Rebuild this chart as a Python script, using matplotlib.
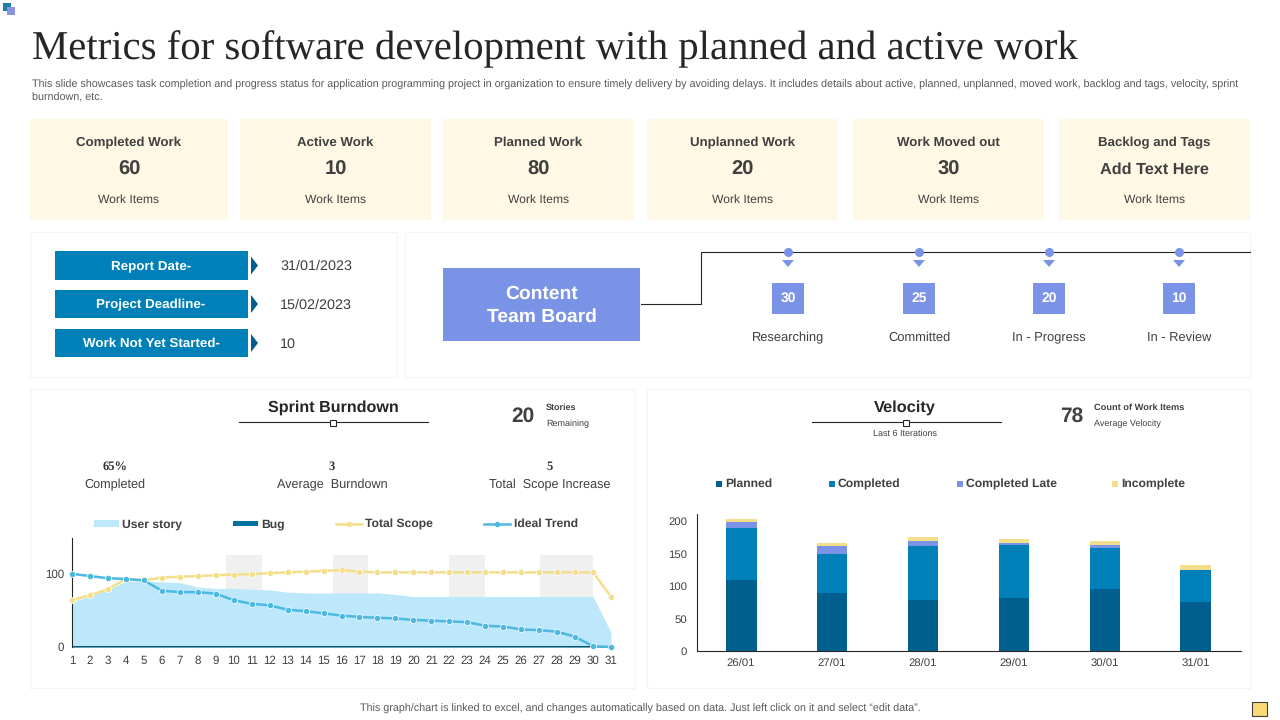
import matplotlib
matplotlib.use("Agg")
import matplotlib.pyplot as plt
from matplotlib.patches import Rectangle, Polygon

plt.rcParams['font.family'] = ['Liberation Sans', 'DejaVu Sans']
plt.rcParams['text.hinting'] = 'no_hinting'

# KPI cards
card_titles = ['Completed Work', 'Active Work', 'Planned Work', 'Unplanned Work', 'Work Moved out', 'Backlog and Tags']
card_values = ['60', '10', '80', '20', '30', 'Add Text Here']

# report info
info_labels = ['Report Date-', 'Project Deadline-', 'Work Not Yet Started-']
info_values = ['31/01/2023', '15/02/2023', '10']

# board
stage_names = ['Researching', 'Committed', 'In - Progress', 'In - Review']
stage_counts = [30, 25, 20, 10]

# sprint burndown
days = list(range(1, 32))
user_story = [62, 70, 78, 90, 90, 89, 88, 82, 80, 80, 79, 78, 75, 74, 74, 74, 74, 74, 72, 69,
              69, 69, 69, 69, 69, 69, 69, 69, 69, 69, 20]
bug = [2] * 30 + [0]
total_scope = [64, 71, 79, 93, 91, 95, 96, 97, 98, 99, 99.5, 101, 102, 103, 104, 105, 103, 102, 102, 102,
               102, 102, 102, 102, 102, 102, 102, 102, 102, 102, 69]
ideal_trend = [100, 97, 94, 93, 91, 77, 75, 75, 73, 64, 59, 57, 51, 49, 46, 43, 41, 40, 39, 37,
               36, 35, 34, 29, 28, 24, 23, 21, 14, 1, 0]
weekend_bands = [(9.57, 11.57), (15.5, 17.5), (22, 24), (27.05, 30)]

# velocity
dates = ['26/01', '27/01', '28/01', '29/01', '30/01', '31/01']
planned = [110, 90, 79, 81, 95, 75]
completed = [79, 59, 82, 83, 64, 49]
completed_late = [10, 12, 9, 3, 5, 0]
incomplete = [5, 5, 6, 5, 5, 8]

BLUE = '#0080B8'
DARK = '#005F8E'
PERI = '#7B93E6'
YEL = '#F3DE8C'
TXT = '#404040'

fig = plt.figure(figsize=(12.8, 7.2), dpi=100, facecolor='white')

# page overlay in pixel coordinates
bg = fig.add_axes([0, 0, 1, 1], zorder=0)
bg.set_xlim(0, 1280)
bg.set_ylim(720, 0)
bg.axis('off')


def box(x0, y0, x1, y1, fc, ec='none', lw=0, z=1):
    bg.add_patch(Rectangle((x0, y0), x1 - x0, y1 - y0, fc=fc, ec=ec, lw=lw, zorder=z))


def txt(x, y, s, size, color=TXT, weight='normal', ha='center', **kw):
    bg.text(x, y + 1, s, fontsize=size, color=color, fontweight=weight, ha=ha, va='center', zorder=5, **kw)


# logo
box(3, 3, 11, 11, '#1B7FA8')
box(7, 7, 15, 15, '#8A94E0', z=2)

txt(32, 48, 'Metrics for software development with planned and active work', 29.3, '#262626',
    ha='left', family=['Liberation Serif', 'DejaVu Serif'])
txt(32, 83.5, 'This slide showcases task completion and progress status for application programming project in '
    'organization to ensure timely delivery by avoiding delays. It includes details about active, planned, '
    'unplanned, moved work, backlog and tags, velocity, sprint', 7.74, '#595959', ha='left')
txt(32, 96.5, 'burndown, etc.', 7.74, '#595959', ha='left')

# cards
card_x = [(30, 228), (240, 431), (443, 634), (647, 838), (853, 1044), (1059, 1250)]
for (x0, x1), t, v in zip(card_x, card_titles, card_values):
    box(x0, 119, x1, 220, '#FFF8E5')
    c = (x0 + x1) / 2
    txt(c, 142, t, 9.5, weight='bold')
    txt(c, 168.5, v, 14.5 if len(v) < 3 else 11.7, weight='bold')
    txt(c, 199, 'Work Items', 8.7)

# white panels
for x0, y0, x1, y1 in [(30, 232, 397, 377), (405, 232, 1250, 377), (30, 389, 635, 688), (647, 389, 1250, 688)]:
    box(x0, y0, x1, y1, 'white', ec='#F5F5F5', lw=1)

# report info
info_y = [(251, 280), (290, 318), (329, 357)]
for (y0, y1), lab, val in zip(info_y, info_labels, info_values):
    box(55, y0, 248, y1, BLUE)
    m = (y0 + y1) / 2
    txt(151, m, lab, 9.6, 'white', 'bold')
    bg.add_patch(Polygon([(251, m - 9), (258, m), (251, m + 9)], fc=DARK, zorder=3))
    txt(280, m, val, 10.4, ha='left')

# board
box(443, 268, 640, 341, PERI)
txt(542, 293, 'Content', 13.9, 'white', 'bold')
txt(542, 316, 'Team Board', 13.9, 'white', 'bold')
bg.plot([641, 701, 701, 1250], [304, 304, 252, 252], color='#262626', lw=0.8, zorder=3)
for x, name, n in zip([788, 919, 1049, 1179], stage_names, stage_counts):
    bg.plot([x], [252], 'o', color=PERI, ms=5.5, zorder=4)
    bg.add_patch(Polygon([(x - 6, 260), (x + 6, 260), (x, 267)], fc=PERI, zorder=4))
    box(x - 16, 283, x + 16, 314, PERI)
    txt(x, 297.5, str(n), 10, 'white', 'bold')
    txt(x, 337, name, 9.3)

# panel headers
txt(333, 407, 'Sprint Burndown', 11.6, '#262626', 'bold')
bg.plot([239, 428], [422, 422], color='#262626', lw=0.8, zorder=3)
bg.plot([333], [422.5], 's', mfc='white', mec='#262626', ms=5, mew=0.8, zorder=4)
txt(523, 415, '20', 15, weight='bold')
txt(546, 407, 'Stories', 6.5, weight='bold', ha='left')
txt(546, 423, 'Remaining', 6.5, ha='left')
for x, top, bot in [(115, '65%', 'Completed'), (332, '3', 'Average  Burndown'), (550, '5', 'Total  Scope Increase')]:
    txt(x, 465.5, top, 9, '#333333', 'bold', family=['Liberation Serif', 'DejaVu Serif'])
    txt(x, 484, bot, 9.1)

txt(905, 407, 'Velocity', 11.8, '#262626', 'bold')
bg.plot([812, 1001], [422, 422], color='#262626', lw=0.8, zorder=3)
bg.plot([906], [422.5], 's', mfc='white', mec='#262626', ms=5, mew=0.8, zorder=4)
txt(905, 433, 'Last 6 Iterations', 6.5)
txt(1072, 415, '78', 15, weight='bold')
txt(1094, 407, 'Count of Work Items', 6.7, weight='bold', ha='left')
txt(1094, 423, 'Average Velocity', 6.5, ha='left')

# burndown legend
box(94, 520, 119, 527, '#BDE8FC')
txt(122, 523, 'User story', 8.7, weight='bold', ha='left')
box(233, 521, 258, 526, '#00709F')
txt(261, 523, 'Bug', 8.7, weight='bold', ha='left')
bg.plot([336, 362], [523.5, 523.5], color=YEL, lw=1.8, zorder=3)
bg.plot([349], [523.5], 'o', color=YEL, ms=3, zorder=3)
txt(365, 523, 'Total Scope', 8.7, weight='bold', ha='left')
bg.plot([484, 510], [523.5, 523.5], color='#4DB8E0', lw=1.8, zorder=3)
bg.plot([497], [523.5], 'o', color='#4DB8E0', ms=3, zorder=3)
txt(514, 523, 'Ideal Trend', 8.7, weight='bold', ha='left')

# velocity legend
for x, c, s in zip([716, 829, 957, 1112], [DARK, BLUE, PERI, YEL],
                   ['Planned', 'Completed', 'Completed Late', 'Incomplete']):
    box(x, 481, x + 6, 487, c)
    txt(x + 9, 483, s, 8.7, weight='bold', ha='left')

txt(640, 707.5, 'This graph/chart is linked to excel, and changes automatically based on data. '
    'Just left click on it and select \u201cedit data\u201d.', 7.71, '#595959')
box(1252, 702, 1267, 716, '#F9D976', ec='#404040', lw=0.8)


def px_axes(x0, y0, x1, y1):
    return fig.add_axes([x0 / 1280, 1 - y1 / 720, (x1 - x0) / 1280, (y1 - y0) / 720], zorder=2, facecolor='none')


# sprint burndown chart
ax = px_axes(72, 538, 611, 647)
ax.set_xlim(1, 31)
ax.set_ylim(0, 149)
for a, b in weekend_bands:
    ax.fill_between([a, b], 0, 126, color='#F0F0F0', lw=0, zorder=1)
ax.fill_between(days, 0, user_story, color='#BDE8FC', lw=0, zorder=2)
ax.fill_between(days, 0, bug, color='#004F6E', lw=0, zorder=3)
ax.plot(days, total_scope, '-o', color=YEL, lw=1.8, ms=4.5, mec='white', mew=0.5, clip_on=False, zorder=4)
ax.plot(days, ideal_trend, '-o', color='#4DB8E0', lw=1.8, ms=4.5, mec='white', mew=0.5, clip_on=False, zorder=5)
ax.set_xticks(days)
ax.set_yticks([0, 100])
ax.tick_params(length=0, labelsize=8.3, labelcolor=TXT, pad=6)
ax.tick_params(axis='y', pad=5.5)
for s in ['top', 'right', 'bottom']:
    ax.spines[s].set_visible(False)
ax.spines['left'].set_color('#262626')

# velocity chart
ax2 = px_axes(697, 514, 1241, 651)
xs = list(range(len(dates)))
bottom = [0] * len(dates)
for vals, c in zip([planned, completed, completed_late, incomplete], [DARK, BLUE, PERI, YEL]):
    ax2.bar(xs, vals, 0.34, bottom=bottom, color=c, lw=0)
    bottom = [b + v for b, v in zip(bottom, vals)]
ax2.set_xlim(-0.484, 5.495)
ax2.set_ylim(0, 211)
ax2.set_xticks(xs, dates)
ax2.set_yticks([0, 50, 100, 150, 200])
ax2.tick_params(length=0, labelsize=8.2, labelcolor=TXT)
ax2.tick_params(axis='x', pad=6)
ax2.tick_params(axis='y', pad=7)
for s in ['top', 'right']:
    ax2.spines[s].set_visible(False)
ax2.spines['left'].set_color('#262626')
ax2.spines['bottom'].set_color('#262626')

fig.savefig('out.png', dpi=100)
